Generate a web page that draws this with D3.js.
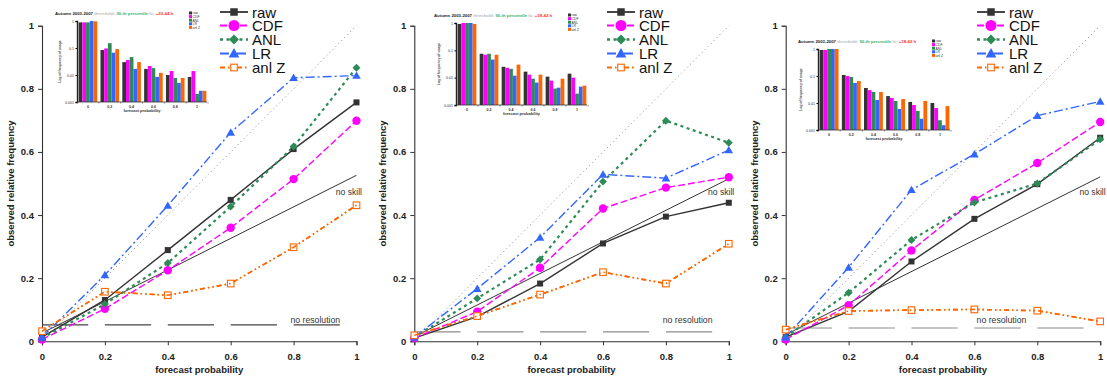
<!DOCTYPE html>
<html>
<head>
<meta charset="utf-8">
<script src="https://cdn.jsdelivr.net/npm/d3@7"></script>
<style>
  body { margin: 0; background: #fff; }
  svg { display: block; font-family: "Liberation Sans", Arial, sans-serif; }
</style>
</head>
<body>
<div id="chart"></div>
<script>
// forecast probability classes
const probs = [0, 0.2, 0.4, 0.6, 0.8, 1];
const seriesNames = ["raw", "CDF", "ANL", "LR", "anl Z"];
const yTicks = [0, 0.2, 0.4, 0.6, 0.8, 1];
const usageTicks = [1, 0.1, 0.01, 0.001];

// observed relative frequency, panel 1
const raw1 = [0.013, 0.131, 0.289, 0.448, 0.609, 0.757];
const cdf1 = [0.006, 0.103, 0.225, 0.360, 0.514, 0.699];
const anl1 = [0.010, 0.118, 0.248, 0.427, 0.617, 0.867];
const lr1 = [0.013, 0.210, 0.430, 0.662, 0.835, 0.842];
const anlz1 = [0.032, 0.157, 0.146, 0.183, 0.298, 0.431];
// panel 2
const raw2 = [0.010, 0.078, 0.183, 0.310, 0.395, 0.439];
const cdf2 = [0.010, 0.094, 0.233, 0.421, 0.487, 0.520];
const anl2 = [0.013, 0.136, 0.259, 0.506, 0.699, 0.629];
const lr2 = [0.013, 0.167, 0.329, 0.529, 0.517, 0.606];
const anlz2 = [0.019, 0.080, 0.148, 0.219, 0.183, 0.309];
// panel 3
const raw3 = [0.013, 0.095, 0.253, 0.388, 0.498, 0.645];
const cdf3 = [0.006, 0.114, 0.288, 0.448, 0.565, 0.695];
const anl3 = [0.013, 0.154, 0.321, 0.440, 0.500, 0.640];
const lr3 = [0.013, 0.234, 0.480, 0.593, 0.715, 0.760];
const anlz3 = [0.037, 0.096, 0.099, 0.101, 0.097, 0.063];

// sample climatology (no resolution level)
const climatology = [0.052, 0.030, 0.042];

// frequency of usage (inset bars), per class, order raw, CDF, ANL, LR, anl Z
const usage1 = [
  [0.89, 0.89, 0.89, 1.0, 0.97],
  [0.084, 0.096, 0.151, 0.067, 0.091],
  [0.030, 0.036, 0.046, 0.0168, 0.030],
  [0.0168, 0.0216, 0.018, 0.0085, 0.012],
  [0.010, 0.014, 0.0078, 0.0051, 0.0078],
  [0.0085, 0.014, 0.0020, 0.0026, 0.0026]
];
const usage2 = [
  [0.92, 1.0, 1.0, 1.0, 0.92],
  [0.075, 0.069, 0.075, 0.046, 0.069],
  [0.025, 0.023, 0.021, 0.0118, 0.030],
  [0.0166, 0.0129, 0.0092, 0.0066, 0.0129],
  [0.0109, 0.0078, 0.0040, 0.0043, 0.0092],
  [0.014, 0.010, 0.0026, 0.0047, 0.0051]
];
const usage3 = [
  [0.92, 0.92, 1.0, 1.0, 1.0],
  [0.109, 0.100, 0.092, 0.055, 0.065],
  [0.036, 0.030, 0.0255, 0.0129, 0.0255],
  [0.018, 0.0153, 0.0119, 0.006, 0.014],
  [0.0109, 0.0084, 0.0051, 0.0026, 0.0119],
  [0.010, 0.0065, 0.0023, 0.0015, 0.0077]
];
const leadTimes = ["+20-44 h", "+18-42 h", "+18-42 h"];

const colors = ["#333333", "#ff00ff", "#2e8b57", "#3366ff", "#ff6600"];
const dashes = ["none", "7,3", "3,3.5", "9,3,2,3", "5,3,1.5,3,1.5,3"];
const widths = [1.4, 1.4, 2.2, 1.4, 1.6];

const W = 1107, H = 376;
const svg = d3.select("#chart").append("svg").attr("width", W).attr("height", H);

const panels = [
  { x0: 42, obs: [raw1, cdf1, anl1, lr1, anlz1], usage: usage1, clim: climatology[0],
    resCol: "#444", resX: 0.79, inset: { x0: 77, x1: 207, top: 21, bottom: 102, titleX: 55, titleY: 15, legX: 189, legY: 13 },
    legX: 220 },
  { x0: 414.3, obs: [raw2, cdf2, anl2, lr2, anlz2], usage: usage2, clim: climatology[1],
    resCol: "#8c8c8c", resX: 0.79, inset: { x0: 456, x1: 587, top: 23, bottom: 105, titleX: 434, titleY: 17, legX: 568, legY: 15 },
    legX: 607 },
  { x0: 785.7, obs: [raw3, cdf3, anl3, lr3, anlz3], usage: usage3, clim: climatology[2],
    resCol: "#8c8c8c", resX: 0.607, inset: { x0: 818, x1: 950, top: 49, bottom: 130, titleX: 798, titleY: 43, legX: 932, legY: 41 },
    legX: 977 }
];

const plotW = 314.5, yTop = 25.7, yBot = 341.3;

function marker(g, i, cx, cy, big) {
  const s = big ? 1.25 : 1;
  if (i === 0) {
    g.append("rect").attr("x", cx - 3 * s).attr("y", cy - 3 * s).attr("width", 6 * s).attr("height", 6 * s)
      .attr("fill", colors[0]);
  } else if (i === 1) {
    g.append("circle").attr("cx", cx).attr("cy", cy).attr("r", big ? 5.5 : 4.2).attr("fill", colors[1]);
  } else if (i === 2) {
    g.append("path").attr("d", d3.symbol(d3.symbolDiamond2, 40 * s * s)())
      .attr("transform", `translate(${cx},${cy})`).attr("fill", colors[2]);
  } else if (i === 3) {
    g.append("path").attr("d", d3.symbol(d3.symbolTriangle, 32 * s * s)())
      .attr("transform", `translate(${cx},${cy + 0.8})`).attr("fill", colors[3]);
  } else {
    g.append("rect").attr("x", cx - 3.3).attr("y", cy - 3.3).attr("width", 6.6).attr("height", 6.6)
      .attr("fill", "#fff").attr("stroke", colors[4]).attr("stroke-width", 1.1);
  }
}

panels.forEach((p, pi) => {
  const g = svg.append("g");
  const x = d3.scaleLinear().domain([0, 1]).range([p.x0, p.x0 + plotW]);
  const y = d3.scaleLinear().domain([0, 1]).range([yBot, yTop]);

  // axes
  const xAxis = g.append("g").attr("transform", `translate(0,${yBot})`)
    .call(d3.axisBottom(x).tickValues(probs).tickSize(4).tickFormat(d3.format("")));
  const yAxis = g.append("g").attr("transform", `translate(${p.x0},0)`)
    .call(d3.axisLeft(y).tickValues(yTicks).tickSize(4).tickFormat(d3.format("")));
  [xAxis, yAxis].forEach(a => {
    a.select(".domain").attr("stroke", "#333").attr("stroke-width", 1.1);
    a.selectAll(".tick line").attr("stroke", "#333");
    a.selectAll("text").attr("font-size", 9.5).attr("font-weight", "bold").attr("fill", "#222")
      .attr("font-family", "Liberation Sans, Arial, sans-serif");
  });
  xAxis.selectAll("text").attr("dy", "1.2em");
  yAxis.selectAll("text").attr("x", -8);

  g.append("text").attr("x", p.x0 + plotW / 2).attr("y", 372.5).attr("text-anchor", "middle")
    .attr("font-size", 9.5).attr("font-weight", "bold").attr("fill", "#222").text("forecast probability");
  g.append("text").attr("transform", `translate(${p.x0 - 28},${(yTop + yBot) / 2}) rotate(-90)`)
    .attr("text-anchor", "middle").attr("font-size", 9.5).attr("font-weight", "bold").attr("fill", "#222")
    .text("observed relative frequency");

  // perfect reliability diagonal
  g.append("line").attr("x1", x(0)).attr("y1", y(0)).attr("x2", x(1)).attr("y2", y(1))
    .attr("stroke", "#999").attr("stroke-width", 1).attr("stroke-dasharray", "1.2,3");
  // no skill line
  g.append("line").attr("x1", x(0)).attr("y1", y(p.clim / 2)).attr("x2", x(1)).attr("y2", y((1 + p.clim) / 2))
    .attr("stroke", "#333").attr("stroke-width", 1);
  // no resolution line
  const dashLen = x(0.147) - x(0), gapLen = x(0.2) - x(0.147);
  g.append("line").attr("x1", x(0)).attr("y1", y(p.clim)).attr("x2", x(1)).attr("y2", y(p.clim))
    .attr("stroke", p.resCol).attr("stroke-width", 1.1).attr("stroke-dasharray", `${dashLen},${gapLen}`);
  g.append("text").attr("x", x(1) + 5.5).attr("y", 195).attr("text-anchor", "end")
    .attr("font-size", 8.6).attr("fill", "#333").text("no skill");
  g.append("text").attr("x", x(p.resX)).attr("y", 323).attr("font-size", 8.7).attr("fill", "#333")
    .text("no resolution");

  // series
  const line = d3.line().x((d, k) => x(probs[k])).y(d => y(d));
  p.obs.forEach((vals, i) => {
    g.append("path").datum(vals).attr("d", line).attr("fill", "none")
      .attr("stroke", colors[i]).attr("stroke-width", widths[i]).attr("stroke-dasharray", dashes[i]);
  });
  p.obs.forEach((vals, i) => {
    vals.forEach((v, k) => marker(g, i, x(probs[k]), y(v), false));
  });
  // anl Z line passes over its open squares
  g.append("path").datum(p.obs[4]).attr("d", line).attr("fill", "none")
    .attr("stroke", colors[4]).attr("stroke-width", widths[4]).attr("stroke-dasharray", dashes[4]);

  // legend
  const legRows = [12, 25.5, 39.5, 53.5, 67.5];
  seriesNames.forEach((name, i) => {
    const ly = legRows[i];
    g.append("line").attr("x1", p.legX).attr("x2", p.legX + 28).attr("y1", ly).attr("y2", ly)
      .attr("stroke", colors[i]).attr("stroke-width", i === 2 ? 2.4 : 1.8)
      .attr("stroke-dasharray", dashes[i] === "none" ? null : dashes[i]);
    marker(g, i, p.legX + 14, ly, true);
    g.append("text").attr("x", p.legX + 32).attr("y", ly + 5.5).attr("font-size", 15).attr("fill", "#111").text(name);
  });

  // inset: frequency of usage
  const ins = p.inset;
  const ix = d3.scaleBand().domain(probs).range([ins.x0 + 1, ins.x1]).paddingInner(0.15).paddingOuter(0.03);
  const iy = d3.scaleLog().domain([0.001, 1]).range([ins.bottom, ins.top]);
  const bx = d3.scaleBand().domain(d3.range(5)).range([0, ix.bandwidth()]);
  const ig = g.append("g");
  p.usage.forEach((grp, k) => {
    grp.forEach((v, i) => {
      ig.append("rect").attr("x", ix(probs[k]) + bx(i)).attr("y", iy(v))
        .attr("width", bx.bandwidth()).attr("height", iy(0.001) - iy(v)).attr("fill", colors[i]);
    });
  });
  const iyAxis = ig.append("g").attr("transform", `translate(${ins.x0},0)`)
    .call(d3.axisLeft(iy).tickValues(usageTicks).tickSize(1.5).tickFormat(d3.format("")));
  iyAxis.select(".domain").attr("stroke", "#222").attr("stroke-width", 1.4);
  iyAxis.selectAll("text").attr("font-size", 3.6).attr("x", -3).attr("fill", "#333");
  const step = ix.step();
  const boundaries = d3.range(7).map(k => ix(probs[0]) - step * 0.075 + k * step);
  ig.append("line").attr("x1", ins.x0).attr("x2", ins.x1).attr("y1", ins.bottom).attr("y2", ins.bottom)
    .attr("stroke", "#333").attr("stroke-width", 0.8);
  boundaries.forEach(b => {
    ig.append("line").attr("x1", b).attr("x2", b).attr("y1", ins.bottom).attr("y2", ins.bottom + 1.5)
      .attr("stroke", "#333").attr("stroke-width", 0.6);
  });
  probs.forEach(v => {
    ig.append("text").attr("x", ix(v) + ix.bandwidth() / 2).attr("y", ins.bottom + 6).attr("text-anchor", "middle")
      .attr("font-size", 3.6).attr("font-weight", "bold").attr("fill", "#333").text(d3.format("")(v));
  });
  ig.append("text").attr("x", (ins.x0 + ins.x1) / 2).attr("y", ins.bottom + 10).attr("text-anchor", "middle")
    .attr("font-size", 4).attr("font-weight", "bold").attr("fill", "#333").text("forecast probability");
  ig.append("text").attr("transform", `translate(${ins.x0 - 16},${(ins.top + ins.bottom) / 2}) rotate(-90)`)
    .attr("text-anchor", "middle").attr("font-size", 3.4).attr("font-weight", "bold").attr("fill", "#555")
    .text("Log of frequency of usage");
  const title = ig.append("text").attr("x", ins.titleX).attr("y", ins.titleY)
    .attr("font-size", 4.3).attr("font-weight", "bold");
  title.append("tspan").attr("fill", "#222").text("Autumn 2003-2007 ");
  title.append("tspan").attr("fill", "#bbb").text("threshold: ");
  title.append("tspan").attr("fill", "#3cb371").text("90-th percentile ");
  title.append("tspan").attr("fill", "#bbb").text("fc: ");
  title.append("tspan").attr("fill", "#ff3030").text(leadTimes[pi]);
  seriesNames.forEach((name, i) => {
    const ly = ins.legY + i * 3.6;
    ig.append("rect").attr("x", ins.legX).attr("y", ly - 1.5).attr("width", 3).attr("height", 3).attr("fill", colors[i]);
    ig.append("text").attr("x", ins.legX + 3.6).attr("y", ly + 1.3).attr("font-size", 3.4).attr("fill", "#333").text(name);
  });
});
</script>
</body>
</html>
